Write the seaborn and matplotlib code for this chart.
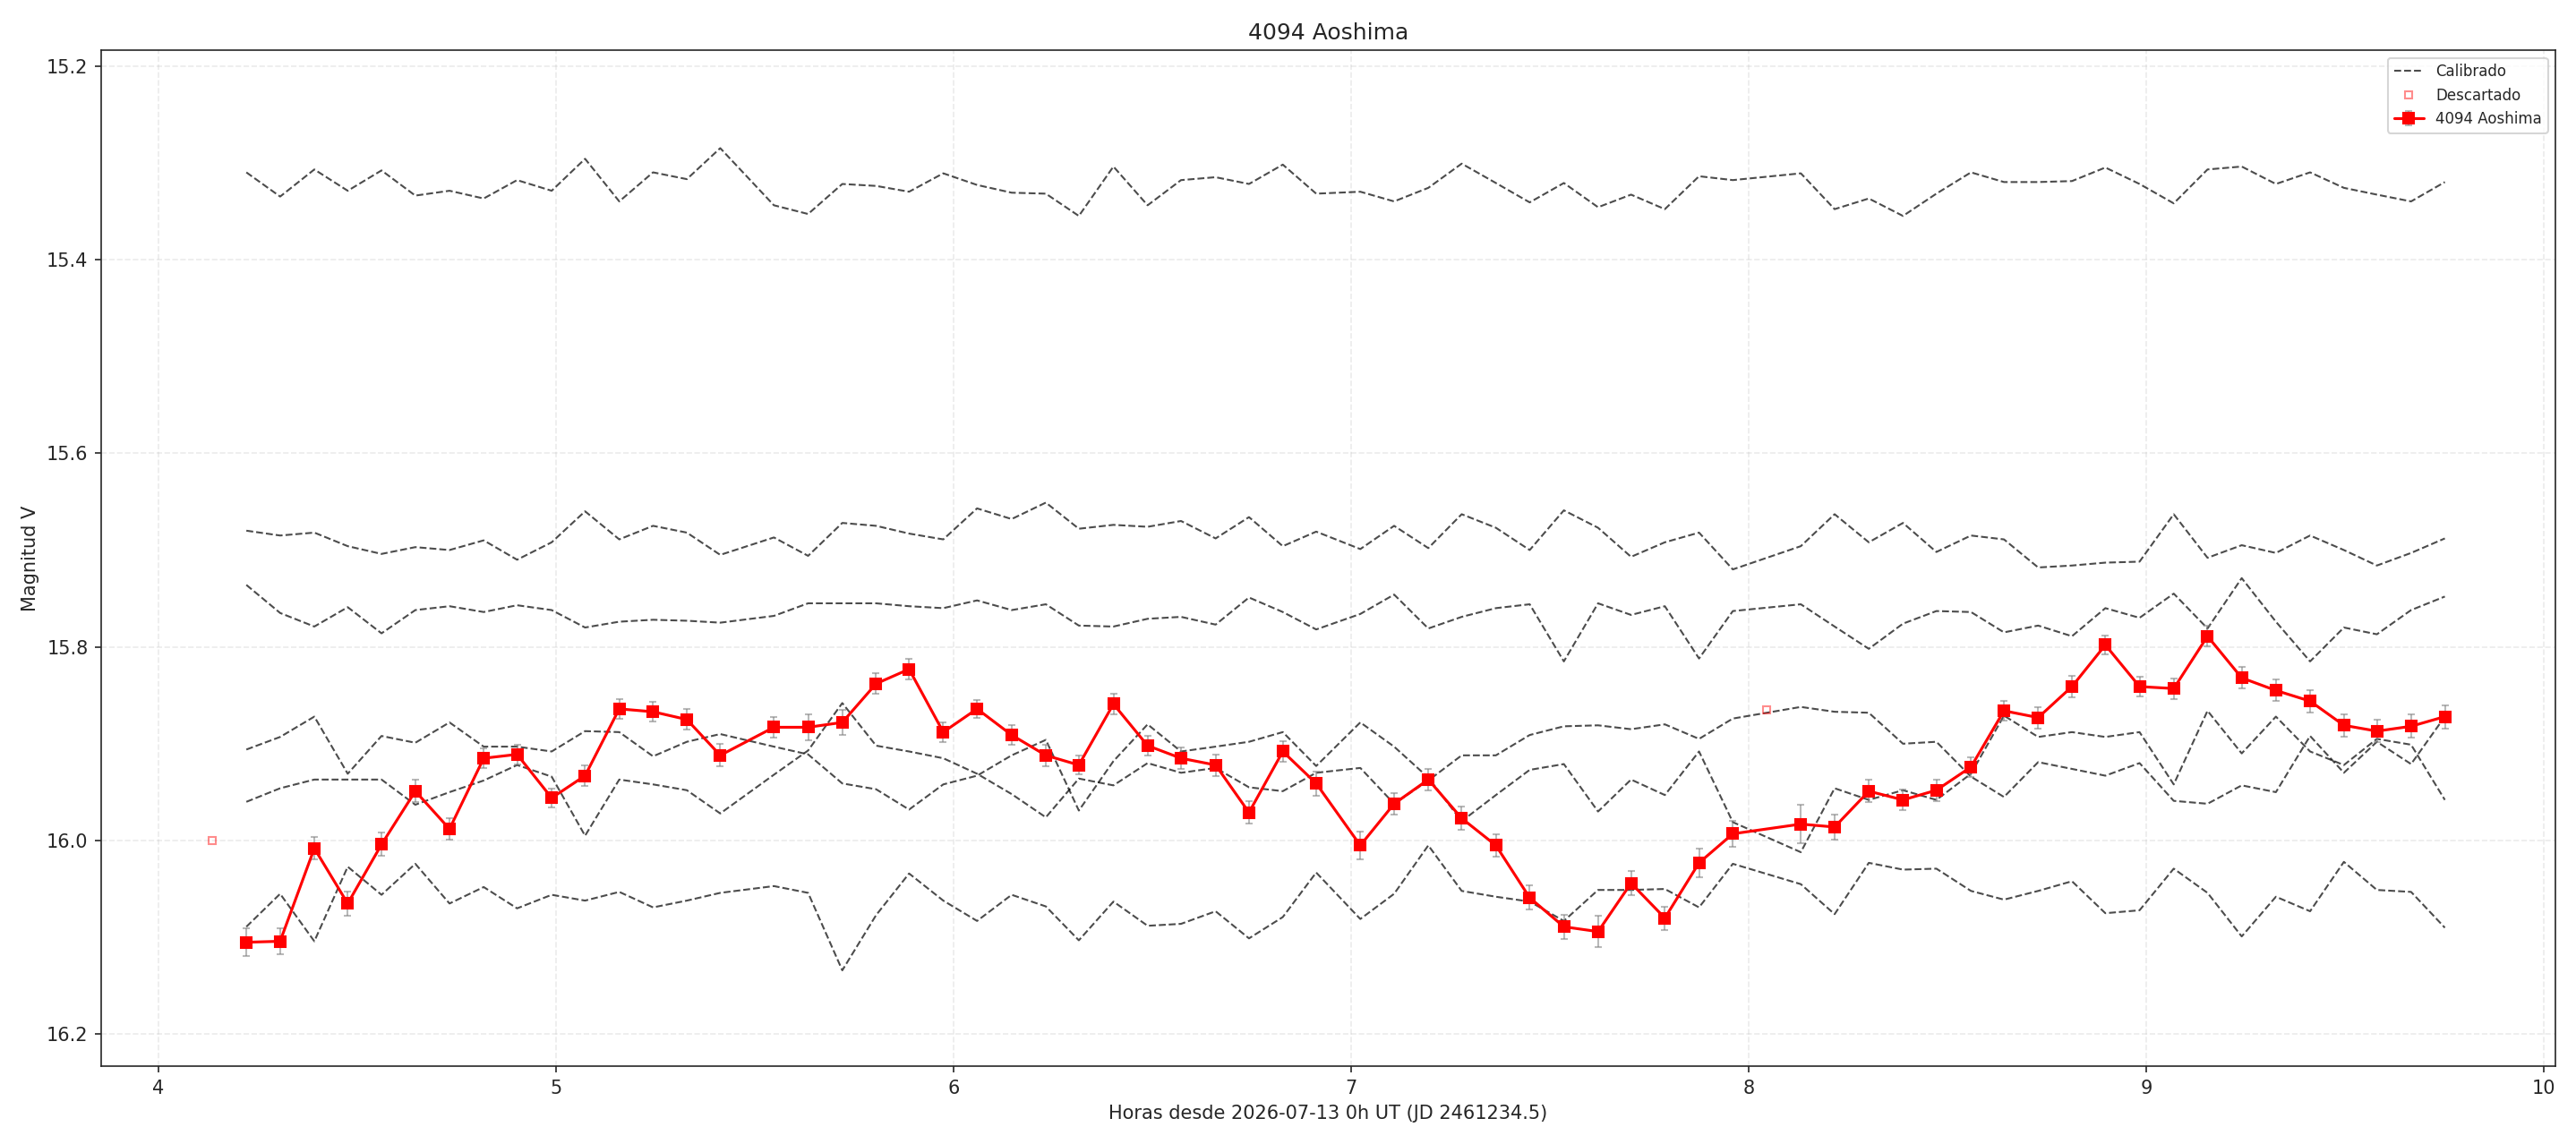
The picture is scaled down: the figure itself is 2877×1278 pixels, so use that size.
import numpy as np
import pandas as pd
import seaborn as sns
import matplotlib
matplotlib.use("Agg")
import matplotlib.pyplot as plt

sns.set_style("ticks")
plt.rcParams["font.family"] = ["DejaVu Sans"]

# horas desde 2026-07-13 0h UT
horas = [4.221, 4.306, 4.392, 4.476, 4.561, 4.646, 4.732, 4.818, 4.902, 4.989,
         5.073, 5.159, 5.244, 5.329, 5.413, 5.548, 5.634, 5.720, 5.805, 5.888,
         5.974, 6.059, 6.146, 6.232, 6.315, 6.402, 6.488, 6.572, 6.659, 6.743,
         6.828, 6.912, 7.023, 7.108, 7.194, 7.278, 7.364, 7.449, 7.535, 7.621,
         7.704, 7.789, 7.875, 7.960, 8.131, 8.216, 8.302, 8.388, 8.472, 8.559,
         8.642, 8.728, 8.813, 8.897, 8.983, 9.069, 9.154, 9.240, 9.326, 9.412,
         9.497, 9.580, 9.666, 9.751]

# magnitud del asteroide
mag = [16.105, 16.104, 16.008, 16.065, 16.004, 15.949, 15.988, 15.915, 15.911, 15.956,
       15.933, 15.864, 15.867, 15.875, 15.912, 15.883, 15.883, 15.878, 15.838, 15.823,
       15.888, 15.864, 15.891, 15.912, 15.922, 15.859, 15.902, 15.915, 15.922, 15.971,
       15.908, 15.941, 16.005, 15.962, 15.937, 15.977, 16.005, 16.059, 16.089, 16.094,
       16.044, 16.080, 16.023, 15.993, 15.983, 15.986, 15.949, 15.958, 15.948, 15.924,
       15.866, 15.873, 15.841, 15.798, 15.841, 15.843, 15.789, 15.832, 15.845, 15.856,
       15.881, 15.887, 15.882, 15.872]

err = [0.014, 0.013, 0.0115, 0.0125, 0.012, 0.0115, 0.0115, 0.0105, 0.010, 0.010,
       0.011, 0.010, 0.010, 0.0105, 0.0115, 0.011, 0.0135, 0.013, 0.0105, 0.0105,
       0.010, 0.0095, 0.010, 0.011, 0.010, 0.0105, 0.010, 0.011, 0.011, 0.0115,
       0.011, 0.0125, 0.014, 0.011, 0.011, 0.012, 0.0115, 0.0125, 0.0125, 0.016,
       0.0125, 0.012, 0.015, 0.013, 0.020, 0.013, 0.0115, 0.011, 0.011, 0.010,
       0.0105, 0.011, 0.011, 0.010, 0.010, 0.0105, 0.0105, 0.011, 0.011, 0.0115,
       0.0115, 0.0115, 0.012, 0.012]

# puntos descartados
desc_horas = [4.134, 8.044]
desc_mag = [16.000, 15.865]

# estrellas de comparacion calibradas
comp_1 = [15.310, 15.335, 15.307, 15.329, 15.308, 15.334, 15.329, 15.337, 15.318, 15.329,
          15.296, 15.340, 15.310, 15.317, 15.285, 15.344, 15.353, 15.322, 15.324, 15.330,
          15.311, 15.323, 15.331, 15.332, 15.355, 15.304, 15.344, 15.318, 15.315, 15.322,
          15.302, 15.332, 15.330, 15.340, 15.326, 15.301, 15.321, 15.341, 15.321, 15.346,
          15.333, 15.348, 15.314, 15.318, 15.311, 15.348, 15.337, 15.355, 15.332, 15.310,
          15.320, 15.320, 15.319, 15.305, 15.322, 15.342, 15.307, 15.304, 15.322, 15.310,
          15.326, 15.333, 15.340, 15.320]
comp_2 = [15.680, 15.685, 15.682, 15.696, 15.704, 15.697, 15.700, 15.690, 15.710, 15.692,
          15.660, 15.689, 15.675, 15.682, 15.705, 15.687, 15.706, 15.672, 15.675, 15.683,
          15.689, 15.657, 15.668, 15.651, 15.678, 15.674, 15.676, 15.670, 15.688, 15.666,
          15.696, 15.681, 15.699, 15.675, 15.698, 15.663, 15.677, 15.700, 15.659, 15.677,
          15.707, 15.692, 15.682, 15.720, 15.696, 15.663, 15.692, 15.672, 15.702, 15.685,
          15.689, 15.718, 15.716, 15.713, 15.712, 15.663, 15.708, 15.695, 15.703, 15.685,
          15.700, 15.716, 15.703, 15.688]
comp_3 = [15.736, 15.765, 15.779, 15.759, 15.786, 15.762, 15.758, 15.764, 15.757, 15.762,
          15.780, 15.774, 15.772, 15.773, 15.775, 15.768, 15.755, 15.755, 15.755, 15.758,
          15.760, 15.752, 15.762, 15.756, 15.778, 15.779, 15.771, 15.769, 15.777, 15.749,
          15.764, 15.782, 15.766, 15.746, 15.781, 15.769, 15.760, 15.756, 15.815, 15.755,
          15.767, 15.758, 15.812, 15.763, 15.756, 15.779, 15.802, 15.776, 15.763, 15.764,
          15.785, 15.778, 15.789, 15.760, 15.770, 15.745, 15.781, 15.729, 15.774, 15.815,
          15.780, 15.787, 15.762, 15.748]
comp_4 = [15.906, 15.893, 15.872, 15.931, 15.892, 15.899, 15.878, 15.903, 15.903, 15.908,
          15.887, 15.888, 15.913, 15.898, 15.890, 15.903, 15.911, 15.941, 15.947, 15.968,
          15.942, 15.933, 15.912, 15.896, 15.969, 15.918, 15.880, 15.908, 15.903, 15.898,
          15.888, 15.923, 15.878, 15.903, 15.935, 15.980, 15.953, 15.927, 15.921, 15.970,
          15.937, 15.953, 15.908, 15.981, 16.012, 15.946, 15.958, 15.948, 15.958, 15.931,
          15.871, 15.893, 15.888, 15.893, 15.888, 15.942, 15.866, 15.910, 15.872, 15.908,
          15.922, 15.895, 15.901, 15.958]
comp_5 = [15.960, 15.946, 15.937, 15.937, 15.937, 15.963, 15.950, 15.938, 15.922, 15.934,
          15.995, 15.937, 15.942, 15.948, 15.972, 15.932, 15.907, 15.858, 15.902, 15.908,
          15.915, 15.931, 15.952, 15.976, 15.936, 15.943, 15.920, 15.930, 15.925, 15.945,
          15.949, 15.930, 15.925, 15.962, 15.938, 15.912, 15.912, 15.891, 15.882, 15.881,
          15.885, 15.880, 15.895, 15.874, 15.862, 15.867, 15.868, 15.900, 15.898, 15.934,
          15.955, 15.919, 15.926, 15.933, 15.920, 15.959, 15.962, 15.943, 15.950, 15.892,
          15.930, 15.898, 15.921, 15.872]
comp_6 = [16.089, 16.055, 16.104, 16.027, 16.056, 16.024, 16.065, 16.048, 16.070, 16.056,
          16.062, 16.053, 16.069, 16.062, 16.054, 16.047, 16.054, 16.134, 16.077, 16.034,
          16.062, 16.083, 16.056, 16.068, 16.103, 16.063, 16.088, 16.086, 16.073, 16.101,
          16.079, 16.033, 16.081, 16.055, 16.005, 16.052, 16.058, 16.063, 16.083, 16.051,
          16.051, 16.050, 16.069, 16.024, 16.045, 16.076, 16.023, 16.030, 16.029, 16.052,
          16.061, 16.052, 16.042, 16.075, 16.072, 16.029, 16.054, 16.099, 16.058, 16.073,
          16.022, 16.051, 16.053, 16.090]

comps = [comp_1, comp_2, comp_3, comp_4, comp_5, comp_6]

df_comp = pd.concat(
    [pd.DataFrame({"horas": horas, "mag": c, "estrella": i}) for i, c in enumerate(comps)],
    ignore_index=True)

fig, ax = plt.subplots(figsize=(19.18, 8.52), dpi=150)
fig.subplots_adjust(left=0.0393, right=0.992, bottom=0.068, top=0.956)

# curvas de comparacion
for i, (estrella, sub) in enumerate(df_comp.groupby("estrella")):
    sns.lineplot(data=sub, x="horas", y="mag", ax=ax, color="black", alpha=0.7,
                 linestyle="--", linewidth=1, sort=False, estimator=None,
                 label="Calibrado" if i == 0 else None, legend=False)

# descartados
ax.plot(desc_horas, desc_mag, linestyle="none", marker="s", markersize=4,
        markerfacecolor="none", markeredgecolor="red", alpha=0.45,
        label="Descartado")

# asteroide
eb = ax.errorbar(horas, mag, yerr=err, fmt="-s", color="red", markersize=5.5,
                 linewidth=1.5, ecolor="gray", elinewidth=1, capsize=2,
                 label="4094 Aoshima", zorder=3)
# barras de error semitransparentes
for cap in eb[1]:
    cap.set_alpha(0.55)
for bar in eb[2]:
    bar.set_alpha(0.55)

ax.set_xlim(3.856, 10.029)
ax.set_ylim(16.233, 15.184)
ax.set_yticks([15.2, 15.4, 15.6, 15.8, 16.0, 16.2])
ax.grid(True, linestyle="--", alpha=0.4)

ax.set_title("4094 Aoshima")
ax.set_xlabel("Horas desde 2026-07-13 0h UT (JD 2461234.5)")
ax.set_ylabel("Magnitud V")
ax.legend(loc="upper right", fontsize=8)

fig.savefig("out.png", dpi=150)
